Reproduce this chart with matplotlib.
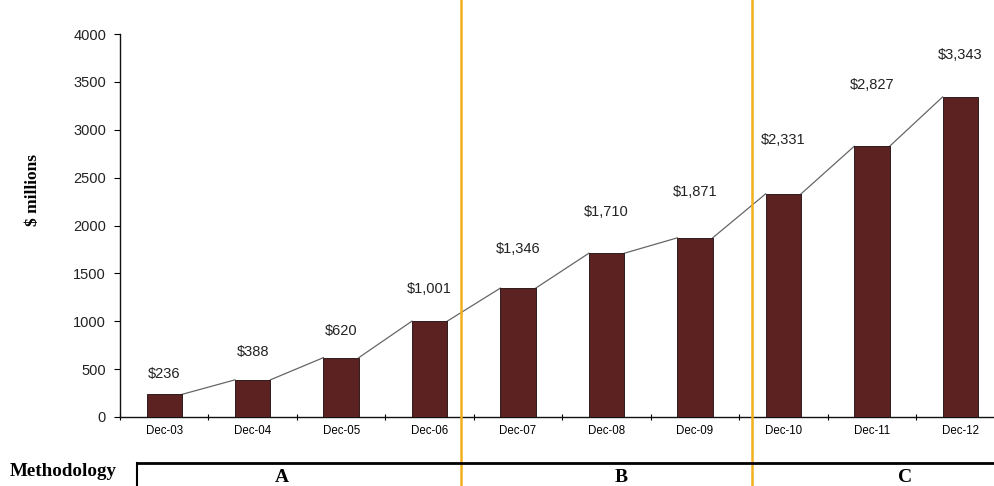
import matplotlib
matplotlib.use("Agg")
import matplotlib.pyplot as plt
from matplotlib.lines import Line2D
import matplotlib.transforms as mtransforms

categories = ["Dec-03", "Dec-04", "Dec-05", "Dec-06", "Dec-07",
              "Dec-08", "Dec-09", "Dec-10", "Dec-11", "Dec-12"]
values = [236, 388, 620, 1001, 1346, 1710, 1871, 2331, 2827, 3343]
value_labels = ["$236", "$388", "$620", "$1,001", "$1,346",
                "$1,710", "$1,871", "$2,331", "$2,827", "$3,343"]
methods = ["A", "B", "C"]

# label offsets above bar tops (points)
label_offsets = [15, 20, 19, 23, 28, 30, 33, 39, 44, 30]
# methodology boundaries and letter positions in category units
method_breaks = [3.36, 6.65]
method_text_x = [1.33, 5.16, 8.37]

bar_color = "#5c2121"
orange = "#f2b01c"
bar_w = 0.4

fig = plt.figure(figsize=(9.95, 4.86), dpi=100)
ax = fig.add_axes([0.1206, 0.142, 0.889, 0.788])

x = list(range(len(categories)))
ax.bar(x, values, width=bar_w, color=bar_color, edgecolor="#1a0a0a", linewidth=0.6, zorder=3)

# series lines between bar tops
for i in range(len(values) - 1):
    ax.plot([i + bar_w / 2, i + 1 - bar_w / 2], [values[i], values[i + 1]],
            color="#666666", lw=0.9, zorder=2)

for xi, v, lab, off in zip(x, values, value_labels, label_offsets):
    ax.annotate(lab, (xi, v), xytext=(0, off), textcoords="offset points",
                ha="center", va="center", fontsize=10.5, color="#222222",
                family="Liberation Sans")

ax.set_xlim(-0.5, len(categories) - 0.5)
ax.set_ylim(0, 4000)
ax.set_yticks(range(0, 4001, 500))
ax.set_xticks([i - 0.5 for i in range(len(categories) + 1)])
ax.set_xticklabels([])
ax.set_xticks(x, minor=True)
ax.set_xticklabels(categories, minor=True, fontsize=8.3, family="Liberation Sans")
ax.tick_params(axis="x", which="major", direction="inout", length=5, width=0.8)
ax.tick_params(axis="x", which="minor", length=0, pad=6)
ax.tick_params(axis="y", direction="out", length=4, width=0.8, pad=6,
               labelsize=10.5, labelcolor="#222222")
for t in ax.get_yticklabels():
    t.set_family("Liberation Sans")

for s in ["top", "right"]:
    ax.spines[s].set_visible(False)
for s in ["left", "bottom"]:
    ax.spines[s].set_linewidth(1.0)
    ax.spines[s].set_color("#111111")

# orange methodology dividers across the whole figure height
for b in method_breaks:
    ax.axvline(b, ymin=-0.19, ymax=1.1, color=orange, lw=1.8, clip_on=False, zorder=4)

# methodology bar
fig.add_artist(Line2D([0.1377, 1.0], [0.047, 0.047], color="black", lw=2.0))
fig.add_artist(Line2D([0.1377, 0.1377], [0.0, 0.047], color="black", lw=1.5))
fig.text(0.010, 0.029, "Methodology", fontsize=13.7, fontweight="bold",
         family="Liberation Serif", va="center", ha="left")
trans = mtransforms.blended_transform_factory(ax.transData, fig.transFigure)
for mx, m in zip(method_text_x, methods):
    ax.text(mx, 0.018, m, transform=trans, fontsize=14, fontweight="bold",
            family="Liberation Serif", ha="center", va="center", clip_on=False)

fig.text(0.033, 0.61, "$ millions", rotation=90, fontsize=12.5, fontweight="bold",
         family="Liberation Serif", va="center", ha="center")

fig.savefig("out.png", dpi=100)
